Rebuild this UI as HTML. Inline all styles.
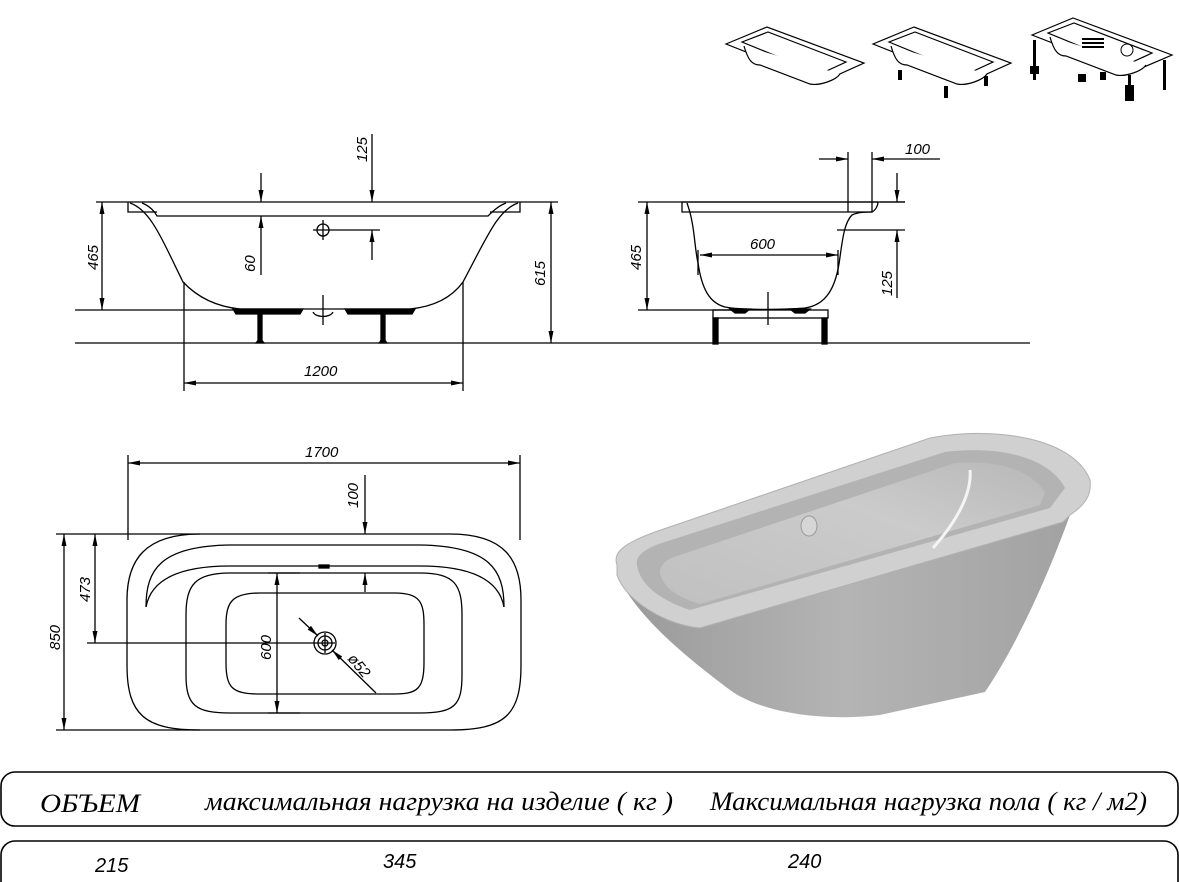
<!DOCTYPE html>
<html><head><meta charset="utf-8"><style>
html,body{margin:0;padding:0;background:#fff;}
svg{display:block;}
.d{font-family:"Liberation Sans",sans-serif;font-style:italic;font-size:15px;fill:#000;}
.t{font-family:"Liberation Serif","Noto Serif CJK SC",serif;font-style:italic;font-size:26px;fill:#000;}
.n{font-family:"Liberation Sans",sans-serif;font-style:italic;font-size:20px;fill:#000;}
</style></head><body>
<svg width="1179" height="882" viewBox="0 0 1179 882" xmlns="http://www.w3.org/2000/svg">
<defs>
<marker id="a" viewBox="0 0 12 6" refX="12" refY="3" markerWidth="12" markerHeight="6" markerUnits="userSpaceOnUse" orient="auto-start-reverse"><path d="M0,0.5 L12,3 L0,5.5Z" fill="#000"/></marker>
<linearGradient id="gb" x1="0" y1="0" x2="1" y2="0"><stop offset="0" stop-color="#9a9a9a"/><stop offset="0.5" stop-color="#b4b4b4"/><stop offset="1" stop-color="#a2a2a2"/></linearGradient>
<linearGradient id="gi" x1="0" y1="1" x2="1" y2="0"><stop offset="0" stop-color="#c0c0c0"/><stop offset="0.6" stop-color="#cbcbcb"/><stop offset="1" stop-color="#b8b8b8"/></linearGradient>
</defs>
<g fill="none" stroke="#000" stroke-width="1.3">
<!-- SIDE VIEW -->
<line x1="75" y1="343" x2="1030" y2="343"/>
<line x1="96" y1="202" x2="558" y2="202"/>
<path d="M128,202 L128,212 L157,212"/>
<path d="M520,202 L520,212 L490,212"/>
<path d="M142,203 C150,206 155,212 157,216 L488,216 C492,212 498,206 506,203"/>
<path d="M130,203 C150,210 160,235 183,282 C200,300 220,307 240,309 L410,309 C430,307 450,300 463,282 C488,235 498,210 518,203"/>
<path d="M233,309 L303,309 L300,314 L236,314Z" fill="#000"/>
<path d="M345,309 L415,309 L412,314 L348,314Z" fill="#000"/>
<path d="M313,312 C316,318 330,318 333,312"/>
<line x1="323" y1="295" x2="323" y2="325"/>
<rect x="258" y="314" width="4" height="28" fill="#000"/>
<rect x="381" y="314" width="4" height="28" fill="#000"/>
<path d="M256,343 L260,338 L264,343Z" fill="#000"/><path d="M379,343 L383,338 L387,343Z" fill="#000"/>
<line x1="75" y1="310" x2="235" y2="310"/>
<line x1="102" y1="202" x2="102" y2="310" marker-start="url(#a)" marker-end="url(#a)"/>
<line x1="551" y1="202" x2="551" y2="343" marker-start="url(#a)" marker-end="url(#a)"/>
<line x1="184" y1="282" x2="184" y2="391"/><line x1="463" y1="282" x2="463" y2="391"/>
<line x1="184" y1="383" x2="463" y2="383" marker-start="url(#a)" marker-end="url(#a)"/>
<line x1="372" y1="134" x2="372" y2="202" marker-end="url(#a)"/>
<line x1="372" y1="260" x2="372" y2="230" marker-end="url(#a)"/>
<line x1="261" y1="173" x2="261" y2="202" marker-end="url(#a)"/>
<line x1="261" y1="275" x2="261" y2="216" marker-end="url(#a)"/>
<circle cx="323" cy="230" r="6"/><line x1="313" y1="230" x2="380" y2="230"/><line x1="323" y1="220" x2="323" y2="240"/>
<!-- END VIEW -->
<path d="M682,202 L682,212 L872,212 C876,210 878,205 878,202 Z"/>
<line x1="638" y1="202" x2="905" y2="202"/>
<path d="M687,203 C695,225 694,245 698,263 C702,290 710,303 725,307 C740,310 780,310 805,308 C825,305 836,290 840,257 C843,235 845,222 852,215 C858,212 866,212 872,212"/>
<line x1="638" y1="310" x2="735" y2="310"/>
<line x1="647" y1="202" x2="647" y2="310" marker-start="url(#a)" marker-end="url(#a)"/>
<line x1="698" y1="250" x2="698" y2="275"/><line x1="838" y1="250" x2="838" y2="275"/>
<line x1="700" y1="255" x2="838" y2="255" marker-start="url(#a)" marker-end="url(#a)"/>
<line x1="848" y1="152" x2="848" y2="212"/><line x1="872" y1="152" x2="872" y2="212"/>
<line x1="819" y1="159" x2="848" y2="159" marker-end="url(#a)"/>
<line x1="940" y1="159" x2="872" y2="159" marker-end="url(#a)"/>
<line x1="880" y1="202" x2="905" y2="202"/><line x1="837" y1="230" x2="905" y2="230"/>
<line x1="897" y1="173" x2="897" y2="202" marker-end="url(#a)"/>
<line x1="897" y1="298" x2="897" y2="230" marker-end="url(#a)"/>
<line x1="768" y1="292" x2="768" y2="325"/>
<rect x="713" y="310" width="115" height="8"/>
<path d="M730,309 L750,309 L745,313 L735,313Z" fill="#000"/><path d="M790,309 L810,309 L805,313 L795,313Z" fill="#000"/>
<rect x="713" y="318" width="5" height="26" fill="#000"/><rect x="822" y="318" width="5" height="26" fill="#000"/>
<!-- TOP VIEW -->
<line x1="128" y1="455" x2="128" y2="540"/><line x1="520" y1="455" x2="520" y2="540"/>
<line x1="128" y1="463" x2="520" y2="463" marker-start="url(#a)" marker-end="url(#a)"/>
<path d="M200,534 L450,534 C505,534 521,560 521,600 L521,665 C521,715 505,730 450,730 L200,730 C145,730 127,715 127,665 L127,600 C127,560 145,534 200,534Z"/>
<line x1="56" y1="534" x2="200" y2="534"/><line x1="56" y1="730" x2="200" y2="730"/>
<line x1="64" y1="534" x2="64" y2="730" marker-start="url(#a)" marker-end="url(#a)"/>
<line x1="95" y1="534" x2="95" y2="643" marker-start="url(#a)" marker-end="url(#a)"/>
<line x1="87" y1="643" x2="315" y2="643"/>
<path d="M146,607 C146,570 160,546 230,545 L420,545 C490,546 504,570 504,607"/>
<path d="M146,607 C150,585 170,566 230,566 L420,566 C480,566 500,585 504,607"/>
<path d="M230,573 L420,573 C455,573 462,585 462,615 L462,675 C462,705 455,713 420,713 L230,713 C195,713 186,705 186,675 L186,615 C186,585 195,573 230,573Z"/>
<path d="M260,593 L395,593 C420,593 424,602 424,625 L424,662 C424,688 418,694 395,694 L260,694 C232,694 226,688 226,662 L226,625 C226,602 232,593 260,593Z"/>
<line x1="277" y1="573" x2="277" y2="713" marker-start="url(#a)" marker-end="url(#a)"/>
<line x1="268" y1="573" x2="300" y2="573"/><line x1="268" y1="713" x2="300" y2="713"/>
<line x1="365" y1="475" x2="365" y2="534" marker-end="url(#a)"/>
<line x1="365" y1="592" x2="365" y2="573" marker-end="url(#a)"/>
<rect x="319" y="565" width="10" height="3" fill="#000"/>
<circle cx="325" cy="643" r="11"/><circle cx="325" cy="643" r="7"/><circle cx="325" cy="643" r="3"/>
<line x1="315" y1="643" x2="335" y2="643"/><line x1="325" y1="633" x2="325" y2="653"/>
<line x1="299" y1="618" x2="318" y2="636" marker-end="url(#a)"/>
<line x1="376" y1="693" x2="332" y2="650" marker-end="url(#a)"/>
</g>
<!-- dimension labels -->
<text class="d" transform="translate(98,270) rotate(-90)">465</text>
<text class="d" transform="translate(255,272) rotate(-90)">60</text>
<text class="d" transform="translate(367,162) rotate(-90)">125</text>
<text class="d" transform="translate(545,286) rotate(-90)">615</text>
<text class="d" x="304" y="376">1200</text>
<text class="d" transform="translate(641,270) rotate(-90)">465</text>
<text class="d" x="750" y="249">600</text>
<text class="d" x="905" y="154">100</text>
<text class="d" transform="translate(892,296) rotate(-90)">125</text>
<text class="d" x="305" y="457">1700</text>
<text class="d" transform="translate(358,508) rotate(-90)">100</text>
<text class="d" transform="translate(90,602) rotate(-90)">473</text>
<text class="d" transform="translate(60,650) rotate(-90)">850</text>
<text class="d" transform="translate(271,660) rotate(-90)">600</text>
<text class="d" transform="translate(347,659) rotate(50)">ø52</text>
<!-- 3D tub -->
<path d="M620,580 C640,620 690,660 730,690 C760,712 820,722 880,715 L985,692 C1020,640 1050,570 1070,515 L700,628 C660,622 630,600 620,580Z" fill="url(#gb)"/>
<path d="M617,565 C612,552 625,543 655,532 L930,438 C1000,425 1075,440 1090,480 C1092,495 1085,505 1070,515 L1063,522 L700,628 C665,625 625,600 617,575Z" fill="#d0d0d0" stroke="#b0b0b0"/>
<path d="M637,565 C635,556 645,548 665,542 L945,452 C1000,445 1050,458 1065,488 L1050,508 L690,610 C660,600 640,585 637,565Z" fill="#b3b3b3"/>
<path d="M660,572 C660,564 668,558 680,555 L955,463 C1000,460 1030,470 1045,492 L1040,505 L700,604 C680,598 662,588 660,572Z" fill="url(#gi)"/>
<path d="M933,548 C958,520 972,492 970,470" stroke="#f4f4f4" stroke-width="3" fill="none"/>
<ellipse cx="809" cy="526" rx="8" ry="10" fill="#d6d6d6" stroke="#999"/>
<!-- thumbnails -->
<g fill="#fff" stroke="#000" stroke-width="1.2">
<path d="M726,44 L767,27 L864,63 L822,82Z"/><path d="M742,42 L768,32 L846,62 L820,74Z"/>
<path d="M744,46 C748,60 752,65 760,65 L810,84 C820,86 836,80 840,74"/>
<path d="M873,44 L914,27 L1011,63 L969,82Z"/><path d="M889,42 L915,32 L993,62 L967,74Z"/>
<path d="M891,46 C895,60 899,65 907,65 L957,84 C967,86 983,80 987,74"/>
<path d="M1032,35 L1073,18 L1172,55 L1130,73Z"/><path d="M1048,33 L1074,23 L1152,53 L1126,65Z"/>
<path d="M1050,37 C1054,51 1058,56 1066,56 L1116,75 C1126,77 1142,71 1146,65"/>
</g>
<g fill="#000">
<rect x="898" y="70" width="4" height="10"/><rect x="944" y="86" width="4" height="12"/><rect x="984" y="76" width="4" height="10"/>
<rect x="1033" y="40" width="3" height="40"/><rect x="1030" y="66" width="9" height="8"/><rect x="1078" y="74" width="8" height="8"/>
<rect x="1125" y="85" width="9" height="16"/><rect x="1163" y="60" width="3" height="30"/><rect x="1128" y="75" width="3" height="25"/>
<rect x="1100" y="72" width="6" height="8"/><circle cx="1127" cy="50" r="6" fill="none" stroke="#000"/>
<rect x="1082" y="38" width="22" height="2"/><rect x="1082" y="42" width="22" height="2"/><rect x="1082" y="46" width="22" height="2"/>
</g>
<!-- table -->
<rect x="1" y="772" width="1177" height="54" rx="14" fill="none" stroke="#000" stroke-width="1.6"/>
<rect x="1" y="841" width="1177" height="70" rx="14" fill="none" stroke="#000" stroke-width="1.6"/>
<text class="t" x="40" y="812" textLength="100" lengthAdjust="spacingAndGlyphs">ОБЪЕМ</text>
<text class="t" x="205" y="810" textLength="468" lengthAdjust="spacingAndGlyphs">максимальная нагрузка на изделие ( кг )</text>
<text class="t" x="710" y="810" textLength="437" lengthAdjust="spacingAndGlyphs">Максимальная нагрузка пола ( кг / м2)</text>
<text class="n" x="95" y="872">215</text>
<text class="n" x="383" y="868">345</text>
<text class="n" x="788" y="868">240</text>
</svg>
</body></html>
